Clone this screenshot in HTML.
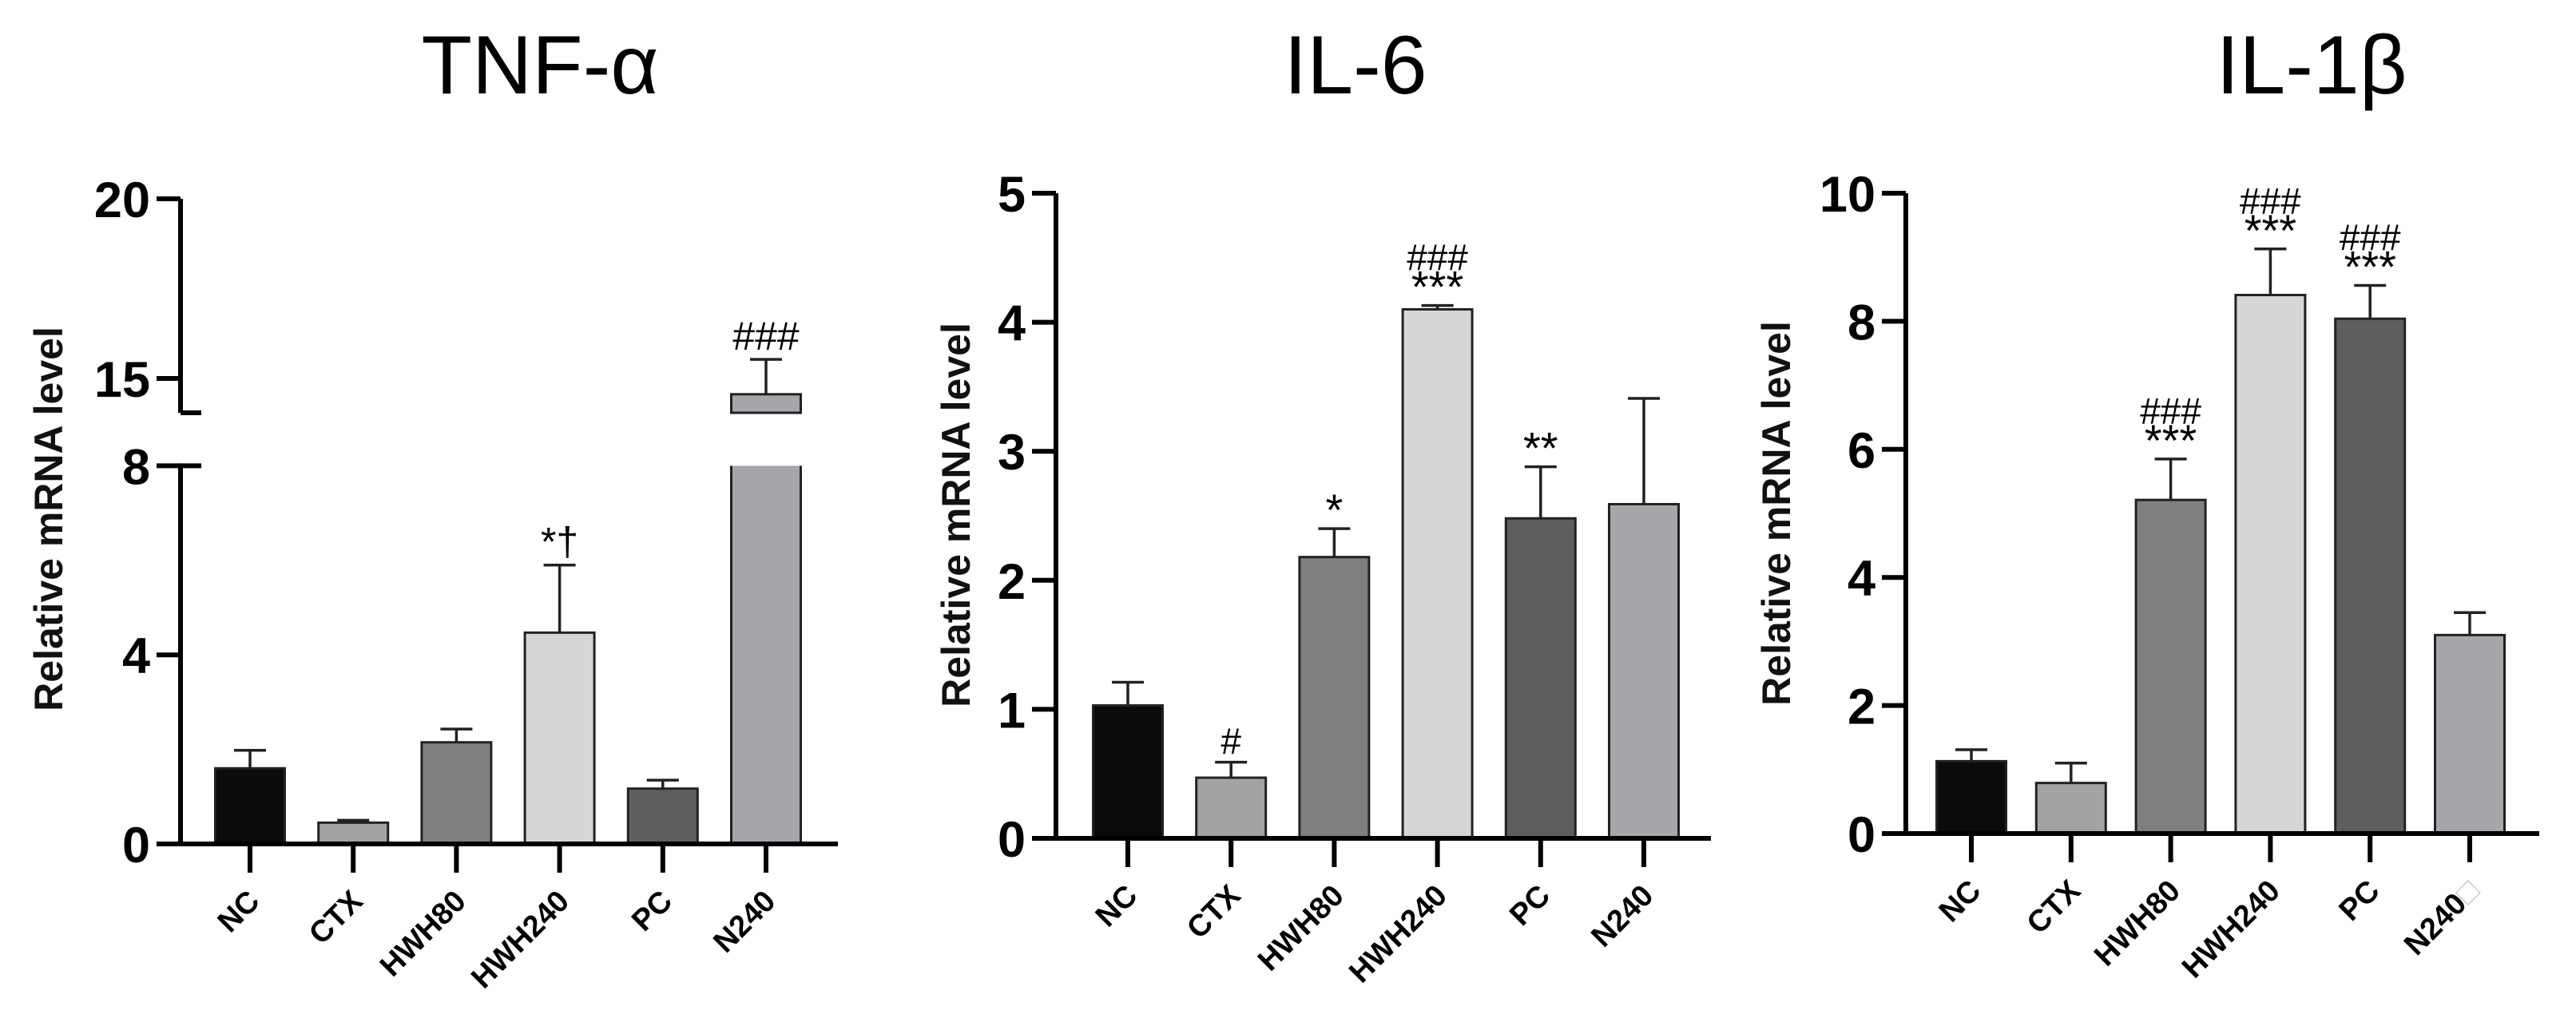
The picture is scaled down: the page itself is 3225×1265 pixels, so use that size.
<!DOCTYPE html>
<html><head><meta charset="utf-8"><style>
html,body{margin:0;padding:0;background:#fff}
svg{display:block}
text{font-family:"Liberation Sans",Arial,sans-serif}
</style></head><body>
<svg id="fig" width="3225" height="1265" viewBox="0 0 3225 1265"></svg>
<script>
const categories = ["NC","CTX","HWH80","HWH240","PC","N240"];
const tnfValues = [1.6, 0.45, 2.15, 4.47, 1.17, 14.56];
const tnfErrors = [1.98, 0.5, 2.43, 5.9, 1.35, 15.53];
const tnfMarks = ["", "", "", "*†", "", "###"];
const il6Values = [1.03, 0.47, 2.18, 4.1, 2.48, 2.59];
const il6Errors = [1.21, 0.59, 2.40, 4.13, 2.88, 3.41];
const il6Stars = ["", "", "*", "***", "**", ""];
const il6Hash = ["", "#", "", "###", "", ""];
const il1Values = [1.13, 0.79, 5.21, 8.41, 8.04, 3.1];
const il1Errors = [1.31, 1.10, 5.85, 9.13, 8.56, 3.45];
const il1Stars = ["", "", "***", "***", "***", ""];
const il1Hash = ["", "", "###", "###", "###", ""];
const tnfTicks = [0, 4, 8, 15, 20];
const il6Ticks = [0, 1, 2, 3, 4, 5];
const il1Ticks = [0, 2, 4, 6, 8, 10];
const colors = ["#0b0b0b","#a3a3a6","#7f7f7f","#d6d6d6","#5e5e5e","#a6a6ab"];

const NS = "http://www.w3.org/2000/svg";
const svg = document.getElementById("fig");
function el(tag, attrs, parent, txt){
  const e = document.createElementNS(NS, tag);
  for (const k in attrs) e.setAttribute(k, attrs[k]);
  if (txt !== undefined) e.textContent = txt;
  (parent || svg).appendChild(e);
  return e;
}

function panel(cfg){
  const g = el("g", {});
  
  
  const t = el("text", {x: cfg.titleX, y: 117, "font-size": 104, "text-anchor": "middle", fill: "#000"}, g, cfg.title);
  
  
  const yt = el("text", {x: 0, y: 0, "font-size": 50, "font-weight": "bold", "text-anchor": "middle", fill: "#111",
    transform: `translate(${cfg.ylabX},${cfg.ylabY}) rotate(-90)`}, g, "Relative mRNA level");
  
  
  const ax = cfg.axisX, base = cfg.base, Y = cfg.y;
  cfg.values.forEach((v, i) => {
    const cx = cfg.x0 + i * cfg.step, bw = 87;
    const top = Y(v), eTop = Y(cfg.errors[i]);
    if (cfg.broken && v > 8) {
      const r1 = el("rect", {x: cx - bw/2, y: Y(8), width: bw, height: base - Y(8), fill: colors[i], stroke: "none"}, g);
      
      
      el("path", {d:`M${cx-bw/2},${base} V${Y(8)} M${cx+bw/2},${Y(8)} V${base}`, stroke:"#222", "stroke-width":3, fill:"none"}, g);
      const r2 = el("rect", {x: cx - bw/2, y: top, width: bw, height: cfg.breakY - top, fill: colors[i], stroke: "#222", "stroke-width": 3}, g);
      
      
    } else {
      const r = el("rect", {x: cx - bw/2, y: top, width: bw, height: base - top, fill: colors[i], stroke: "#222", "stroke-width": 3}, g);
      
      
    }
    const eb = el("path", {d:`M${cx},${top} V${eTop} M${cx-20},${eTop} H${cx+20}`, stroke:"#222", "stroke-width":3.5, fill:"none"}, g);
    
    
    const s = cfg.stars ? cfg.stars[i] : "", h = cfg.hash ? cfg.hash[i] : "";
    if (s && h) {
      const a = el("text", {x: cx, y: eTop - 4, "font-size": 56, "text-anchor": "middle"}, g, s);
      
      
      const b = el("text", {x: cx, y: eTop - 44, "font-size": 46, "text-anchor": "middle"}, g, h);
      
      
    } else if (s) {
      const a = el("text", {x: cx, y: eTop - 4, "font-size": 56, "text-anchor": "middle"}, g, s);
      
      
    } else if (h) {
      const b = el("text", {x: cx, y: eTop - 10, "font-size": 46, "text-anchor": "middle"}, g, h);
      
      
    }
    if (cfg.marks && cfg.marks[i]) {
      const m = el("text", {x: cx, y: eTop - 12, "font-size": 50, "text-anchor": "middle"}, g, cfg.marks[i]);
      
      
    }
    const tk = el("line", {x1: cx, y1: base, x2: cx, y2: base + 36, stroke: "#000", "stroke-width": 6}, g);
    
    
    const lb = el("text", {x: 0, y: 0, "font-size": 38, "font-weight": "bold", "text-anchor": "end",
      transform: `translate(${cx + 14},${base + 74}) rotate(-45)`}, g, categories[i]);
    
    
    if (cfg.boxLast && i === categories.length - 1) {
      el("tspan", {fill: "#c8c8c8", "font-weight": "normal"}, lb, "□");
    }
  });
  const xa = el("line", {x1: ax - 30, y1: base, x2: cfg.axisEnd, y2: base, stroke: "#000", "stroke-width": 6}, g);
  
  
  if (cfg.broken) {
    const y1 = el("path", {d:`M${ax},${base} V${Y(8)} H${ax+26} M${ax},${cfg.breakY} H${ax+26} M${ax},${cfg.breakY} V${Y(20)}`, stroke:"#000", "stroke-width":6, fill:"none"}, g);
    
    
  } else {
    const y1 = el("line", {x1: ax, y1: base + 3, x2: ax, y2: Y(cfg.ticks[cfg.ticks.length-1]), stroke: "#000", "stroke-width": 6}, g);
    
    
  }
  cfg.ticks.forEach(tv => {
    const ty = Y(tv);
    const tl = el("line", {x1: ax - 30, y1: ty, x2: ax, y2: ty, stroke: "#000", "stroke-width": 6}, g);
    
    
    const tt = el("text", {x: ax - 38, y: ty + 23, "font-size": 63, "font-weight": "bold", "text-anchor": "end"}, g, String(tv));
    
    
  });
}

panel({name:"tnf-alpha", title:"TNF-α", titleX:676, ylabX:78, ylabY:650, axisX:226, axisEnd:1049, base:1057,
  x0:313, step:129.2, values:tnfValues, errors:tnfErrors, marks:tnfMarks, ticks:tnfTicks, broken:true, breakY:517,
  y: v => v <= 8 ? 1057 - v * 59.2 : 474 - (v - 15) * 45});
panel({name:"il-6", title:"IL-6", titleX:1697, ylabX:1214, ylabY:645, axisX:1322, axisEnd:2142, base:1050,
  x0:1412, step:129.2, values:il6Values, errors:il6Errors, stars:il6Stars, hash:il6Hash, ticks:il6Ticks,
  y: v => 1050 - v * 161.6});
panel({name:"il-1beta", title:"IL-1β", titleX:2894, ylabX:2241, ylabY:643, axisX:2386, axisEnd:3179, base:1044,
  x0:2468, step:124.8, values:il1Values, errors:il1Errors, stars:il1Stars, hash:il1Hash, ticks:il1Ticks, boxLast:true,
  y: v => 1044 - v * 80.2});
</script>
</body></html>
